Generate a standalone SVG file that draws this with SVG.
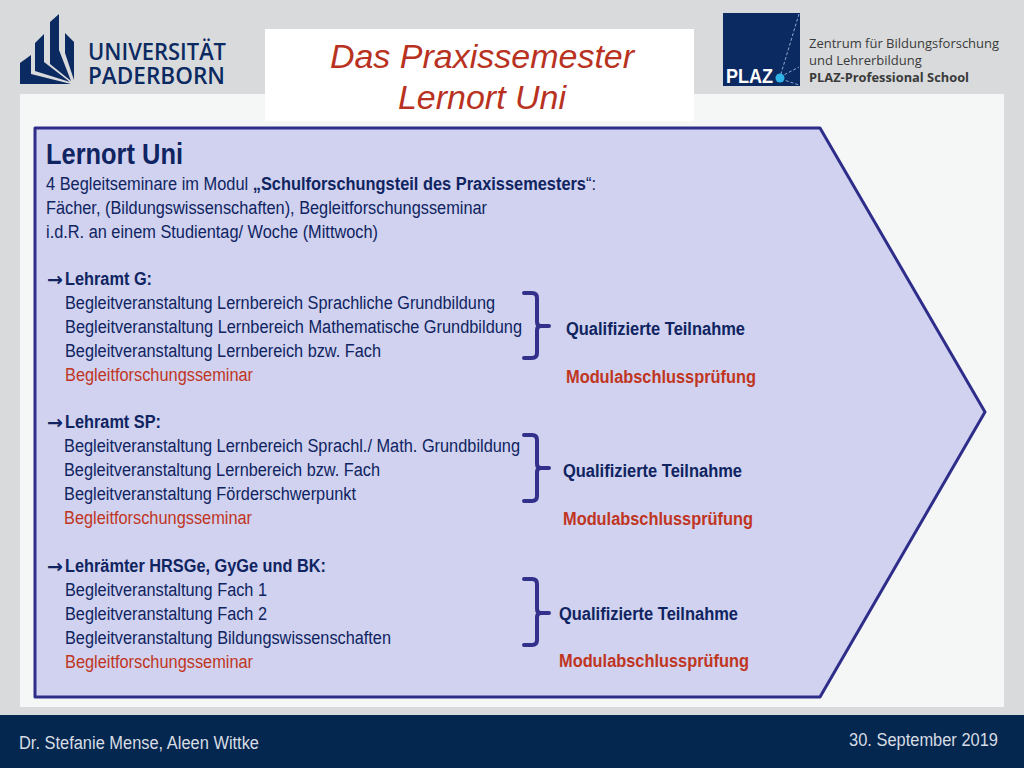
<svg xmlns="http://www.w3.org/2000/svg" width="1024" height="768" viewBox="0 0 1024 768">
<style>
text{font-family:"Liberation Sans",Arial,sans-serif}
.b{font-size:18px;fill:#0f2460}
.r{font-size:18px;fill:#c0351f}
.q{font-size:18px;fill:#0f2460;font-weight:bold}
.m{font-size:18px;fill:#c0351f;font-weight:bold}
.a{font-size:19px;fill:#0f2460;font-weight:bold;font-family:"DejaVu Sans",sans-serif}
.o{font-family:"Open Sans",sans-serif;font-size:13px;fill:#3a3a3a}
.brace{fill:none;stroke:#33308c;stroke-width:4;stroke-linecap:round;stroke-linejoin:round}
.logo{fill:#0c2a62}
</style>
<rect width="1024" height="768" fill="#d9dadc"/>
<rect x="20" y="94" width="984" height="613" fill="#f5f7f7"/>
<g id="title">
<rect x="265" y="29" width="429" height="92" fill="#fff"/>
<text x="482" y="68" text-anchor="middle" font-size="34" font-style="italic" fill="#b8321f">Das Praxissemester</text>
<text x="482" y="109" text-anchor="middle" font-size="34" font-style="italic" fill="#b8321f">Lernort Uni</text>
</g>
<g id="logo-upb">
<path class="logo" d="M20 63L31 55V74L71 84H20Z"/>
<path class="logo" d="M35 43L44 34V62L70 82L35 71Z"/>
<path class="logo" d="M50 22L59 14V50L71 81L50 64Z"/>
<path class="logo" d="M65 33L74 42V80L65 53Z"/>
<text x="88" y="60" font-size="23" font-weight="600" fill="#0c2a62" style="font-family:'Open Sans',sans-serif" textLength="138" lengthAdjust="spacingAndGlyphs">UNIVERSITÄT</text>
<text x="88" y="84" font-size="23" font-weight="600" fill="#0c2a62" style="font-family:'Open Sans',sans-serif" textLength="137" lengthAdjust="spacingAndGlyphs">PADERBORN</text>
</g>
<g id="logo-plaz">
<rect x="723" y="13" width="77" height="73" fill="#0c2a62"/>
<path d="M799 14L780 77M780 77L799 67M781 79L799 85" fill="none" stroke="#8fa6cf" stroke-width="1" stroke-dasharray="3 2"/>
<text x="726" y="83" font-size="20" font-weight="bold" fill="#fff" textLength="47" lengthAdjust="spacingAndGlyphs">PLAZ</text>
<circle cx="780" cy="78" r="4.5" fill="#2fb2e6"/>
<text x="809" y="48" class="o">Zentrum für Bildungsforschung</text>
<text x="809" y="65" class="o">und Lehrerbildung</text>
<text x="809" y="82" class="o" font-weight="bold" textLength="160" lengthAdjust="spacingAndGlyphs">PLAZ-Professional School</text>
</g>
<g id="pentagon">
<path d="M35 128H820L985 412L820 697H35Z" fill="#d0d2f0" stroke="#2e2e8a" stroke-width="3" stroke-linejoin="round"/>
</g>
<g id="content">
<text x="46" y="164" font-size="29" font-weight="bold" fill="#0f2460" textLength="137" lengthAdjust="spacingAndGlyphs">Lernort Uni</text>
<text x="46" y="190" class="b" textLength="550" lengthAdjust="spacingAndGlyphs">4 Begleitseminare im Modul <tspan font-weight="bold">„Schulforschungsteil des Praxissemesters</tspan>“:</text>
<text x="46" y="214" class="b" textLength="441" lengthAdjust="spacingAndGlyphs">Fächer, (Bildungswissenschaften), Begleitforschungsseminar</text>
<text x="46" y="238" class="b" textLength="332" lengthAdjust="spacingAndGlyphs">i.d.R. an einem Studientag/ Woche (Mittwoch)</text>
<text x="47" y="286" class="a">→</text>
<text x="65" y="285" class="q" textLength="87" lengthAdjust="spacingAndGlyphs">Lehramt G:</text>
<text x="65" y="309" class="b" textLength="430" lengthAdjust="spacingAndGlyphs">Begleitveranstaltung Lernbereich Sprachliche Grundbildung</text>
<text x="65" y="333" class="b" textLength="457" lengthAdjust="spacingAndGlyphs">Begleitveranstaltung Lernbereich Mathematische Grundbildung</text>
<text x="65" y="357" class="b" textLength="316" lengthAdjust="spacingAndGlyphs">Begleitveranstaltung Lernbereich bzw. Fach</text>
<text x="65" y="381" class="r" textLength="188" lengthAdjust="spacingAndGlyphs">Begleitforschungsseminar</text>
<text x="47" y="429" class="a">→</text>
<text x="65" y="428" class="q" textLength="96" lengthAdjust="spacingAndGlyphs">Lehramt SP:</text>
<text x="64" y="452" class="b" textLength="456" lengthAdjust="spacingAndGlyphs">Begleitveranstaltung Lernbereich Sprachl./ Math. Grundbildung</text>
<text x="64" y="476" class="b" textLength="316" lengthAdjust="spacingAndGlyphs">Begleitveranstaltung Lernbereich bzw. Fach</text>
<text x="64" y="500" class="b" textLength="292" lengthAdjust="spacingAndGlyphs">Begleitveranstaltung Förderschwerpunkt</text>
<text x="64" y="524" class="r" textLength="188" lengthAdjust="spacingAndGlyphs">Begleitforschungsseminar</text>
<text x="47" y="573" class="a">→</text>
<text x="65" y="572" class="q" textLength="261" lengthAdjust="spacingAndGlyphs">Lehrämter HRSGe, GyGe und BK:</text>
<text x="65" y="596" class="b" textLength="202" lengthAdjust="spacingAndGlyphs">Begleitveranstaltung Fach 1</text>
<text x="65" y="620" class="b" textLength="202" lengthAdjust="spacingAndGlyphs">Begleitveranstaltung Fach 2</text>
<text x="65" y="644" class="b" textLength="326" lengthAdjust="spacingAndGlyphs">Begleitveranstaltung Bildungswissenschaften</text>
<text x="65" y="668" class="r" textLength="188" lengthAdjust="spacingAndGlyphs">Begleitforschungsseminar</text>
<text x="566" y="335" class="q" textLength="179" lengthAdjust="spacingAndGlyphs">Qualifizierte Teilnahme</text>
<text x="566" y="383" class="m" textLength="190" lengthAdjust="spacingAndGlyphs">Modulabschlussprüfung</text>
<text x="563" y="477" class="q" textLength="179" lengthAdjust="spacingAndGlyphs">Qualifizierte Teilnahme</text>
<text x="563" y="525" class="m" textLength="190" lengthAdjust="spacingAndGlyphs">Modulabschlussprüfung</text>
<text x="559" y="620" class="q" textLength="179" lengthAdjust="spacingAndGlyphs">Qualifizierte Teilnahme</text>
<text x="559" y="667" class="m" textLength="190" lengthAdjust="spacingAndGlyphs">Modulabschlussprüfung</text>
</g>
<g id="connectors">
<path class="brace" d="M524 293H532Q537 293 537 298V322Q537 326 541 326H549M541 326Q537 326 537 330V353Q537 358 532 358H524"/>
<path class="brace" d="M524 435H532Q537 435 537 440V464Q537 468 541 468H549M541 468Q537 468 537 472V496Q537 501 532 501H524"/>
<path class="brace" d="M524 579H532Q537 579 537 584V609Q537 613 541 613H549M541 613Q537 613 537 617V640Q537 645 532 645H524"/>
</g>
<g id="footer">
<rect y="715" width="1024" height="53" fill="#03274f"/>
<text x="19" y="749" font-size="18" fill="#d8dce4" textLength="240" lengthAdjust="spacingAndGlyphs">Dr. Stefanie Mense, Aleen Wittke</text>
<text x="849" y="746" font-size="18" fill="#d8dce4" textLength="149" lengthAdjust="spacingAndGlyphs">30. September 2019</text>
</g>
</svg>
